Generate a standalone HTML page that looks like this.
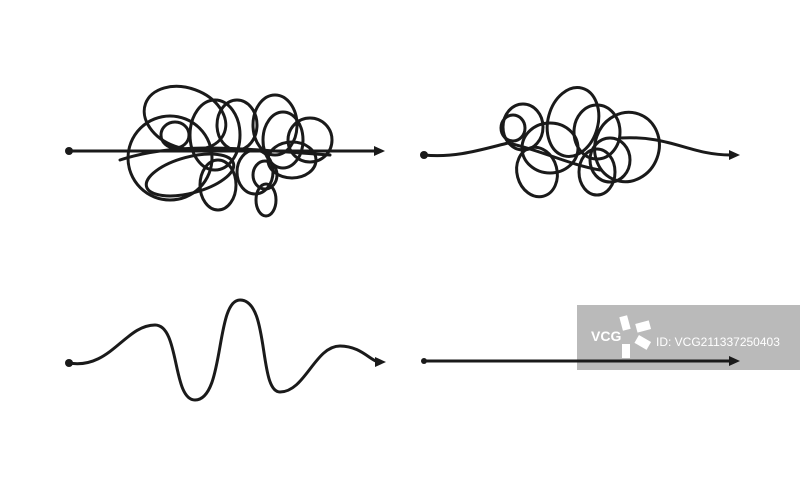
<!DOCTYPE html>
<html><head><style>
html,body{margin:0;padding:0;background:#fff;width:800px;height:480px;overflow:hidden}
svg{display:block}
</style></head><body>
<svg width="800" height="480" viewBox="0 0 800 480" xmlns="http://www.w3.org/2000/svg">
<g fill="none" stroke="#1a1a1a" stroke-width="3" stroke-linecap="round">
<!-- tangle 1 -->
<line x1="69" y1="151" x2="376" y2="151"/>
<ellipse cx="170" cy="158" rx="42" ry="42"/>
<ellipse cx="185" cy="118" rx="42" ry="30" transform="rotate(20 185 118)"/>
<ellipse cx="175" cy="135" rx="14" ry="13"/>
<ellipse cx="215" cy="135" rx="25" ry="35"/>
<ellipse cx="237" cy="125" rx="20" ry="25"/>
<ellipse cx="190" cy="175" rx="45" ry="18" transform="rotate(-15 190 175)"/>
<ellipse cx="218" cy="185" rx="18" ry="25"/>
<ellipse cx="255" cy="172" rx="18" ry="22"/>
<ellipse cx="275" cy="125" rx="22" ry="30"/>
<ellipse cx="283" cy="140" rx="20" ry="28"/>
<ellipse cx="310" cy="140" rx="22" ry="22"/>
<ellipse cx="292" cy="160" rx="24" ry="18"/>
<ellipse cx="265" cy="175" rx="12" ry="14"/>
<ellipse cx="266" cy="200" rx="10" ry="16"/>
<path d="M120 160 C180 140 250 150 330 155"/>
<!-- tangle 2 -->
<path d="M424 155 C455 158 480 150 508 143"/>
<path d="M620 138 C670 135 690 155 730 155"/>
<ellipse cx="513" cy="128" rx="12" ry="13"/>
<ellipse cx="523" cy="127" rx="20" ry="23"/>
<ellipse cx="573" cy="122" rx="25" ry="35" transform="rotate(15 573 122)"/>
<ellipse cx="550" cy="148" rx="28" ry="25"/>
<ellipse cx="537" cy="172" rx="20" ry="25" transform="rotate(-15 537 172)"/>
<ellipse cx="597" cy="132" rx="23" ry="27"/>
<ellipse cx="597" cy="172" rx="18" ry="23"/>
<ellipse cx="627" cy="147" rx="32" ry="35" transform="rotate(20 627 147)"/>
<ellipse cx="610" cy="160" rx="20" ry="22"/>
<path d="M508 143 C540 150 570 165 600 170"/>
<!-- wave -->
<path d="M69 363 C110 370 125 325 155 325 C180 325 172 400 195 400 C225 400 215 300 240 300 C270 300 258 392 280 392 C305 392 315 346 340 346 C360 346 370 360 378 362"/>
<line x1="424" y1="361" x2="732" y2="361"/>
</g>
<g fill="#1a1a1a">
<circle cx="69" cy="151" r="4"/>
<polygon points="374,146 385,151 374,156"/>
<circle cx="424" cy="155" r="4"/>
<polygon points="729,150 740,155 729,160"/>
<circle cx="69" cy="363" r="4"/>
<polygon points="375,357 386,362 375,367"/>
<circle cx="424" cy="361" r="3"/>
</g>
<rect x="577" y="305" width="223" height="65" fill="#b4b4b4" opacity="0.92"/>
<line x1="577" y1="361" x2="732" y2="361" stroke="#1a1a1a" stroke-width="3"/>
<polygon points="729,356 740,361 729,366" fill="#1a1a1a"/>
<g fill="#fff">
<text x="591" y="341" font-family="Liberation Sans, sans-serif" font-weight="bold" font-size="14">VCG</text>
<rect x="621" y="316" width="8" height="14" transform="rotate(-15 625 323)"/>
<rect x="636" y="322" width="14" height="9" transform="rotate(-15 643 326)"/>
<rect x="636" y="338" width="14" height="9" transform="rotate(30 643 342)"/>
<rect x="622" y="344" width="8" height="14"/>
<text x="656" y="346" font-family="Liberation Sans, sans-serif" font-size="12">ID: VCG211337250403</text>
</g>
</svg>
</body></html>
